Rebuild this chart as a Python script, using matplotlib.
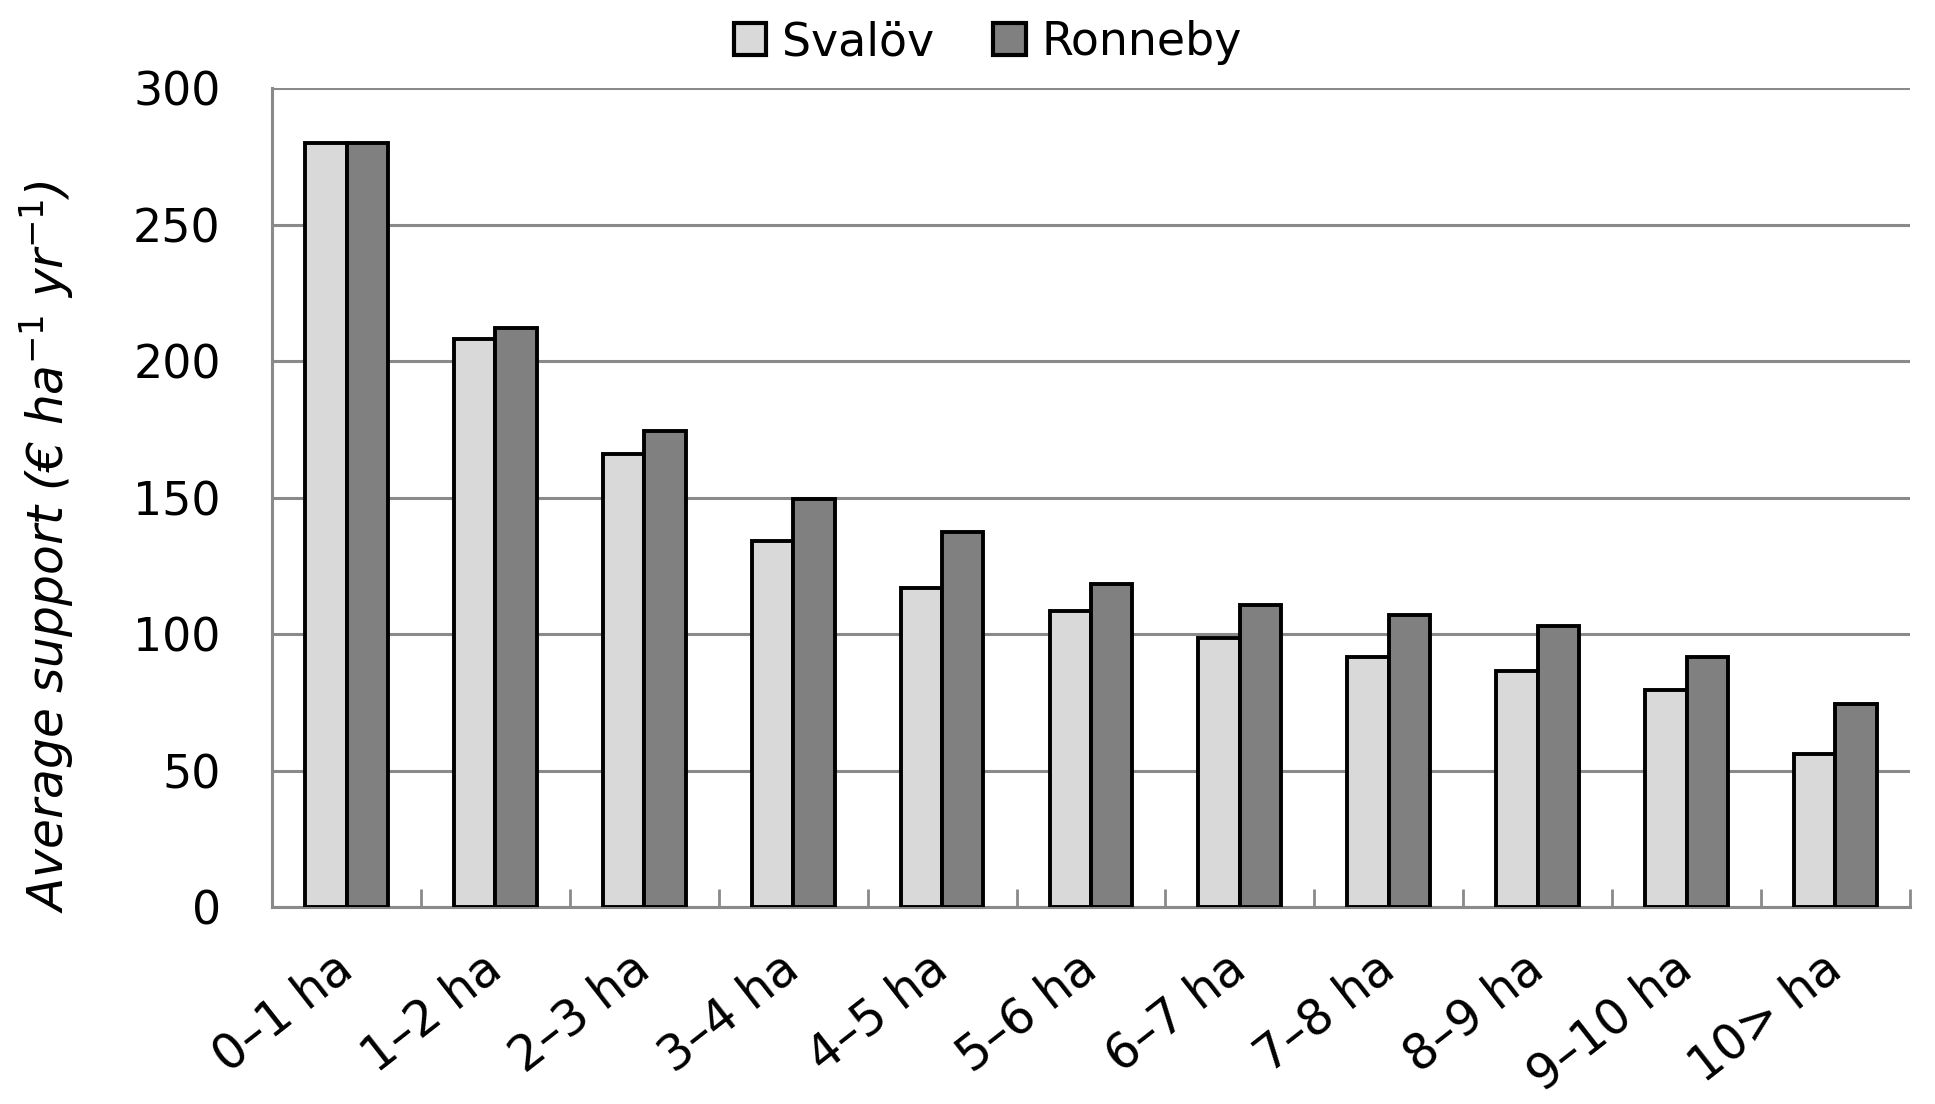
import matplotlib.pyplot as plt
import numpy as np

categories = ['0\u20131 ha', '1\u20132 ha', '2\u20133 ha', '3\u20134 ha', '4\u20135 ha', '5\u20136 ha',
              '6\u20137 ha', '7\u20138 ha', '8\u20139 ha', '9\u201310 ha', '10> ha']
svalov = [280, 208, 166, 134, 117, 108.5, 98.5, 91.5, 86.5, 79.5, 56]
ronneby = [280, 212, 174.5, 149.5, 137.5, 118.5, 110.5, 107, 103, 91.5, 74.5]

plt.rcParams['font.family'] = ['DejaVu Sans']
grid_col = '#8a8a8a'

fig = plt.figure(figsize=(19.35, 11.04), dpi=100)
ax = fig.add_axes([0.1406, 0.1784, 0.8464, 0.7416])

x = np.arange(len(categories))
w = 0.278
ax.bar(x - w / 2, svalov, w, color='#d9d9d9', edgecolor='black', linewidth=2.8, label='Svalöv', zorder=3)
ax.bar(x + w / 2, ronneby, w, color='#808080', edgecolor='black', linewidth=2.8, label='Ronneby', zorder=3)

ax.set_xlim(-0.5, len(categories) - 0.5)
ax.set_ylim(0, 300)
ax.set_yticks(np.arange(0, 301, 50))
ax.yaxis.grid(True, color=grid_col, linewidth=2.2, zorder=0)
ax.set_axisbelow(True)

for s in ['top', 'right']:
    ax.spines[s].set_visible(False)
for s in ['left', 'bottom']:
    ax.spines[s].set_color(grid_col)
    ax.spines[s].set_linewidth(2.2)

ax.tick_params(axis='y', length=0, pad=37, labelsize=33)
ax.set_xticks(x)
ax.set_xticklabels(categories, rotation=38, ha='right', va='center', rotation_mode='anchor', fontsize=35)
ax.tick_params(axis='x', length=0, pad=40)
ax.set_xticks(np.arange(-0.5, len(categories), 1), minor=True)
ax.tick_params(axis='x', which='minor', direction='in', length=13, width=2, color=grid_col)

ax.set_ylabel('Average support (\u20ac ha$^{-1}$ yr$^{-1}$)', fontsize=35, style='italic')
ax.yaxis.set_label_coords(-0.12, 0.44)

leg = ax.legend(loc='lower center', bbox_to_anchor=(0.437, 1.0), ncol=2, frameon=False, fontsize=33,
                handlelength=0.7, handleheight=0.7, handletextpad=0.35, columnspacing=1.3, borderaxespad=0.1)
for h in leg.legend_handles:
    h.set_linewidth(3)

fig.savefig('out.png', dpi=100)
